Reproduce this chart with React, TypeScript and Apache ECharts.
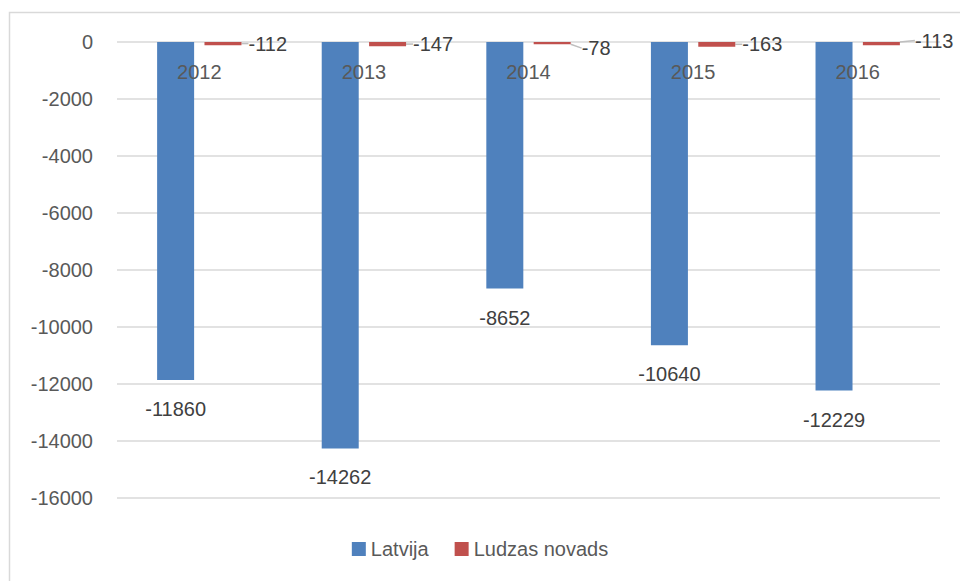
import React, { useEffect, useRef } from "react";
import * as echarts from "echarts";

const categories = ["2012", "2013", "2014", "2015", "2016"];
const latvija = [-11860, -14262, -8652, -10640, -12229];
const ludzas = [-112, -147, -78, -163, -113];
const yTicks = { min: -16000, max: 0, interval: 2000 };

const FONT = "'Liberation Sans', 'Open Sans', sans-serif";

export default function App() {
  const ref = useRef<HTMLDivElement>(null);
  useEffect(() => {
    if (!ref.current) return;
    const chart = echarts.init(ref.current, undefined, { renderer: "svg" });
    chart.setOption({
      animation: false,
      textStyle: { fontFamily: FONT },
      grid: { left: 117, right: 20, top: 42, bottom: 83 },
      graphic: [
        {
          type: "rect",
          shape: { x: 9.5, y: 12.5, width: 980, height: 600 },
          style: { fill: "none", stroke: "#d9d9d9", lineWidth: 1.5 },
          silent: true,
        },
      ],
      legend: {
        bottom: 17,
        left: "center",
        itemWidth: 14,
        itemHeight: 14,
        itemGap: 26,
        icon: "rect",
        textStyle: { fontSize: 20, color: "#595959", fontFamily: FONT },
        data: ["Latvija", "Ludzas novads"],
      },
      xAxis: {
        type: "category",
        data: categories,
        position: "top",
        z: 10,
        axisLine: { show: false },
        axisTick: { show: false },
        axisLabel: { fontSize: 20, color: "#595959", inside: true, margin: 20 },
      },
      yAxis: {
        type: "value",
        min: yTicks.min,
        max: yTicks.max,
        interval: yTicks.interval,
        axisLine: { show: false },
        axisTick: { show: false },
        axisLabel: {
          fontSize: 20,
          color: "#595959",
          margin: 24,
          formatter: (v: number) => String(v),
        },
        splitLine: { lineStyle: { color: "#d9d9d9", width: 1.5 } },
      },
      series: [
        {
          name: "Latvija",
          type: "bar",
          data: latvija,
          barWidth: 37,
          barGap: "28%",
          itemStyle: { color: "#4F81BD" },
          label: {
            show: true,
            position: "bottom",
            distance: 19,
            fontSize: 20,
            color: "#404040",
          },
        },
        {
          name: "Ludzas novads",
          type: "bar",
          data: ludzas,
          barWidth: 37,
          barGap: "28%",
          itemStyle: { color: "#C0504D" },
          label: {
            show: true,
            position: "right",
            distance: 7,
            fontSize: 20,
            color: "#404040",
          },
          labelLine: { show: true, lineStyle: { color: "#bfbfbf", width: 1.5 } },
          labelLayout: (p: any) => {
            if (p.dataIndex === 2) return { dx: 4, dy: 5 };
            if (p.dataIndex === 4) return { dx: 8, dy: -3 };
            return {};
          },
        },
      ],
    });
    return () => chart.dispose();
  }, []);
  return <div ref={ref} style={{ width: 960, height: 581, position: "absolute", left: 0, top: 0 }} />;
}
